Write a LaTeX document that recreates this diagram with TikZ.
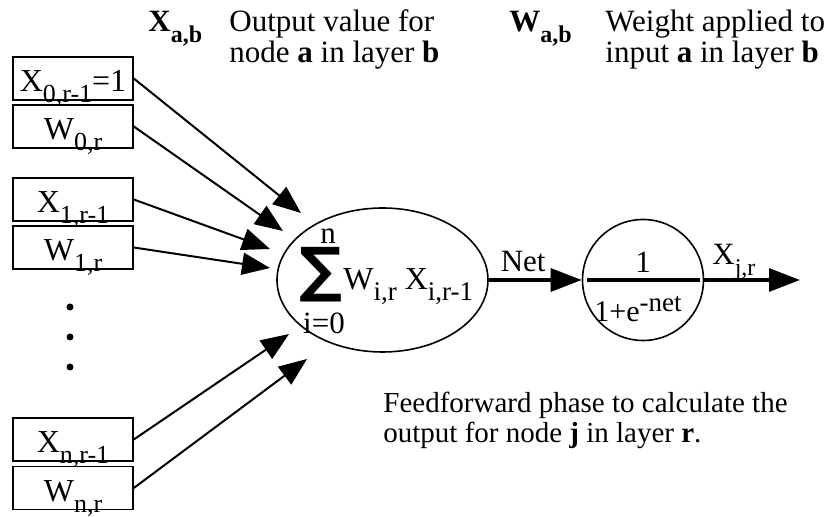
\documentclass[tikz,border=0pt]{standalone}
\usepackage{fontspec}
\setmainfont{Liberation Serif}
\newfontfamily\symfont{DejaVu Sans}
\usetikzlibrary{shapes.geometric,arrows.meta}
\newcommand{\lowsub}[2][12]{\raisebox{-5.5pt}{\fontsize{#1}{#1}\selectfont #2}}
\newcommand{\highsup}[2][13.5]{\raisebox{5pt}{\fontsize{#1}{#1}\selectfont #2}}

\begin{document}
\begin{tikzpicture}[x=0.5pt, y=-0.5pt, >={Triangle[length=14pt,width=11pt]},
	every node/.style={font=\fontsize{15.5}{15.5}\selectfont},
	inbox/.style={draw, line width=0.8pt, minimum width=60pt, minimum height=21.5pt, inner xsep=0pt, inner ysep=4pt, text height=13.5pt, text depth=0pt, font=\fontsize{16}{16}\selectfont},
	feed/.style={->, line width=1pt},
	thickfeed/.style={-{Triangle[length=15.5pt,width=11.5pt]}, line width=1.6pt}]
	\useasboundingbox (0,0) rectangle (837,517);
	
	% 1. legend for the two symbols
	\node[anchor=base west, inner sep=0pt] (xab) at (148,32) {\textbf{X}\lowsub{\textbf{a,b}}};
	\node[anchor=base west, inner sep=0pt, align=left] (xabtxt) at (229,63) {Output value for\\node \textbf{a} in layer \textbf{b}};
	\node[anchor=base west, inner sep=0pt] (wab) at (509,32) {\textbf{W}\lowsub{\textbf{a,b}}};
	\node[anchor=base west, inner sep=0pt, align=left] (wabtxt) at (605,63) {Weight applied to\\input \textbf{a} in layer \textbf{b}};
	
	% 2. input boxes
	\node[inbox] (x0) at (73,78.5) {X\lowsub[13]{0,r-1}=1};
	\node[inbox] (w0) at (73,126.5) {W\lowsub[13]{0,r}};
	\node[inbox] (x1) at (73,199.5) {X\lowsub[13]{1,r-1}};
	\node[inbox] (w1) at (73,247.5) {W\lowsub[13]{1,r}};
	\node[inbox] (xn) at (73,439.5) {X\lowsub[13]{n,r-1}};
	\node[inbox] (wn) at (73,488) {W\lowsub[13]{n,r}};
	
	% vertical dots
	\foreach \y in {307,337,367}
		\fill (70,\y) circle (1.75pt);
	
	% 3. summation node
	\node[ellipse, draw, line width=0.8pt, minimum width=105.5pt, minimum height=72pt, inner sep=0pt] (sum) at (382.5,280) {};
	\node[inner sep=0pt] (sigma) at (321,275) {\symfont\bfseries\fontsize{30}{30}\selectfont ∑};
	\node[inner sep=0pt] (upper) at (328,236) {n};
	\node[inner sep=0pt] (lower) at (324,323) {i=0};
	\node[anchor=base west, inner sep=0pt, font=\fontsize{16}{16}\selectfont] (sumtxt) at (343,290) {W\lowsub[13.5]{i,r} X\lowsub[13.5]{i,r-1}};
	
	% 4. sigmoid node
	\node[circle, draw, line width=0.8pt, minimum size=60.5pt, inner sep=0pt] (sig) at (643,280) {};
	\draw[line width=1.6pt] ([xshift=2.5pt]sig.west) -- ([xshift=-2pt]sig.east);
	\node[inner sep=0pt] (one) at (643,262) {1};
	\node[anchor=base west, inner sep=0pt, font=\fontsize{15}{15}\selectfont] (den) at (594,322) {1+e\highsup{-net}};
	
	% 5. arrow tips near the summation node
	\coordinate (t0) at (301,213);
	\coordinate (t1) at (283,231);
	\coordinate (t2) at (270,249);
	\coordinate (t3) at (270,268);
	\coordinate (t4) at (289,334);
	\coordinate (t5) at (307,359);
	\coordinate (xout) at (800,280);
	
	\draw[feed] (x0.east) -- (t0);
	\draw[feed] (w0.east) -- (t1);
	\draw[feed] (x1.east) -- (t2);
	\draw[feed] (w1.east) -- (t3);
	\draw[feed] (xn.east) -- (t4);
	\draw[feed] (wn.east) -- (t5);
	
	\draw[thickfeed] (sum.east) -- (sig.west) node[pos=0.37, above, inner sep=3.5pt] (net) {Net};
	\draw[thickfeed] (sig.east) -- (xout);
	\node[anchor=base west, inner sep=0pt] (xjr) at (712,265) {X\lowsub{j,r}};
	
	% 6. caption
	\node[anchor=base west, inner sep=0pt, align=left, font=\fontsize{14.5}{15}\selectfont] (caption) at (383,443) {Feedforward phase to calculate the\\output for node \textbf{j} in layer \textbf{r}.};
\end{tikzpicture}
\end{document}
